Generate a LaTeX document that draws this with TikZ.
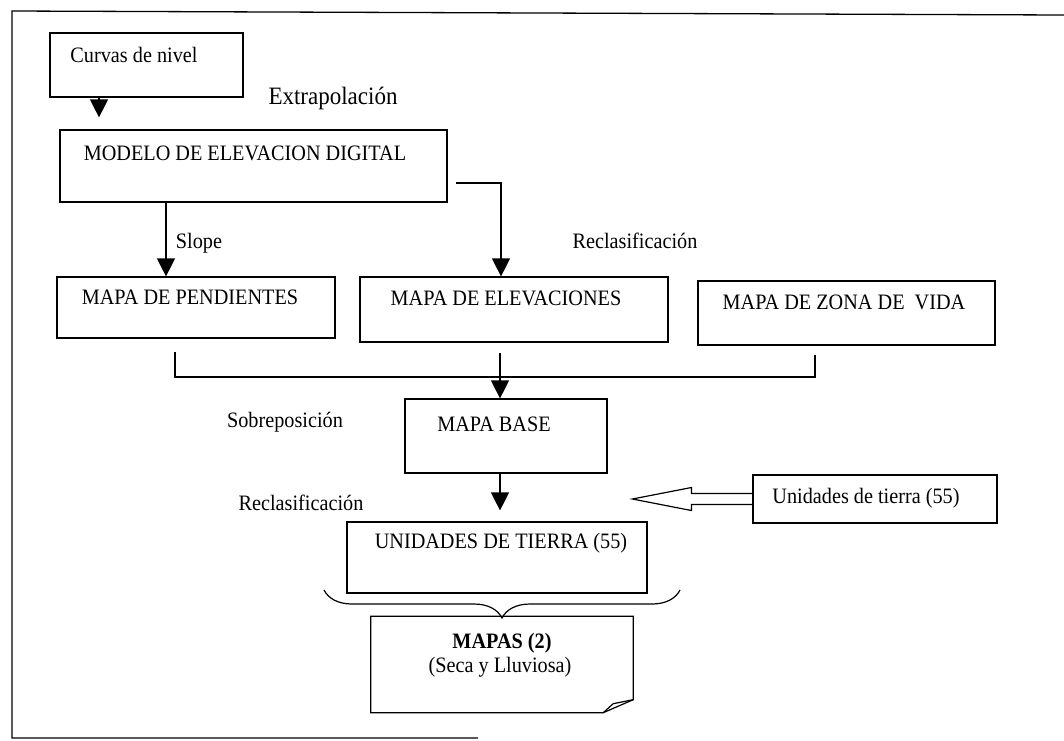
\documentclass[tikz,border=0pt]{standalone}
\usepackage{fontspec}
\setmainfont[FakeStretch=0.92]{Liberation Serif}
\usetikzlibrary{arrows.meta,decorations.pathreplacing,calc}

\begin{document}
\begin{tikzpicture}[x=1pt,y=-1pt,
  box/.style={draw, line width=1.2pt, inner sep=0pt, rectangle},
  txt/.style={inner sep=0pt, font=\fontsize{22}{26}\selectfont},
  conn/.style={line width=1.2pt},
  arr/.style={conn, -{Triangle[width=18pt,length=18pt]}},
]
\useasboundingbox (0,0) rectangle (1064,740);

% outer frame
\draw[line width=1.3pt] (1064,15) -- (12,11) -- (12,738) -- (478,738);

% boxes
\node[box, minimum width=193pt, minimum height=64pt] (curvas) at (146.5,65) {};
\node[box, minimum width=387pt, minimum height=72pt] (modelo) at (253.5,166) {};
\node[box, minimum width=278pt, minimum height=61pt] (pend) at (196,307.5) {};
\node[box, minimum width=308pt, minimum height=65pt] (elev) at (514,309.5) {};
\node[box, minimum width=297pt, minimum height=64pt] (zona) at (846.5,313) {};
\node[box, minimum width=202pt, minimum height=74pt] (base) at (506,436) {};
\node[box, minimum width=300pt, minimum height=71pt] (unid) at (497,557.5) {};
\node[box, minimum width=244pt, minimum height=48pt] (unidsm) at (875,499) {};
\node[inner sep=0pt, minimum width=262pt, minimum height=96pt] (mapas) at (502,664.5) {};

% document shape with folded corner
\draw[conn, line join=miter] (mapas.north west) -- (mapas.north east)
  -- ($(mapas.south east)+(0,-13)$) -- ($(mapas.south east)+(-30,0)$)
  -- (mapas.south west) -- cycle;
\draw[conn] ($(mapas.south east)+(0,-13)$) -- ($(mapas.south east)+(-20,-9)$)
  -- ($(mapas.south east)+(-30,0)$);

% box texts
\node[txt] (tcurvas) at (134,55) {Curvas de nivel};
\node[txt] (tmodelo) at (245,153) {MODELO DE ELEVACION DIGITAL};
\node[txt] (tpend) at (190,297) {MAPA DE PENDIENTES};
\node[txt] (telev) at (506,298) {MAPA DE ELEVACIONES};
\node[txt] (tzona) at (844,302) {MAPA DE ZONA DE\ \ VIDA};
\node[txt] (tbase) at (494,424) {MAPA BASE};
\node[txt] (tunid) at (501,543) {UNIDADES DE TIERRA (55)};
\node[txt] (tunidsm) at (866,498) {Unidades de tierra (55)};
\node[txt, font=\fontsize{22}{26}\selectfont\bfseries] (tmapas) at (502,643) {MAPAS (2)};
\node[txt] (tseca) at (500,667) {(Seca y Lluviosa)};

% operation labels
\node[txt, font=\fontsize{25}{30}\selectfont] (lextra) at (333,98) {Extrapolación};
\node[txt] (lslope) at (199,243) {Slope};
\node[txt] (lrecl1) at (635,241) {Reclasificación};
\node[txt] (lsobre) at (285,422) {Sobreposición};
\node[txt] (lrecl2) at (301,503) {Reclasificación};

% connectors
\coordinate (xa) at (99,0);
\draw[arr, shorten >=12pt] (curvas.south -| xa) -- (modelo.north -| xa);

\coordinate (xs) at (166,0);
\draw[arr] (modelo.south -| xs) -- (pend.north -| xs);

\coordinate (rA) at (456,183);
\coordinate (rB) at (501,183);
\draw[arr] (rA) -- (rB) -- (elev.north -| rB);

\coordinate (m1) at (175,352);
\coordinate (mY) at (0,377);
\coordinate (m3) at (815,355);
\coordinate (m2) at (500,353);
\draw[conn] (m1) -- (m1 |- mY) -- (m3 |- mY) -- (m3);
\draw[arr] (m2) -- (base.north -| m2);

\coordinate (bx) at (500,0);
\draw[arr, shorten >=11pt] (base.south -| bx) -- (unid.north -| bx);

% hollow block arrow
\draw[conn, line join=miter]
  ($(unidsm.west)+(0,-5.5)$) -- ($(unidsm.west)+(-61,-5.5)$)
  -- ($(unidsm.west)+(-61,-11.5)$) -- ($(unidsm.west)+(-120,0)$)
  -- ($(unidsm.west)+(-61,11.5)$) -- ($(unidsm.west)+(-61,5.5)$)
  -- ($(unidsm.west)+(0,5.5)$);

% brace grouping into the final maps
\coordinate (b1) at (324,590);
\coordinate (b2) at (680,590);
\draw[conn, decorate, decoration={brace, amplitude=28pt}] (b2) -- (b1);
\end{tikzpicture}
\end{document}
